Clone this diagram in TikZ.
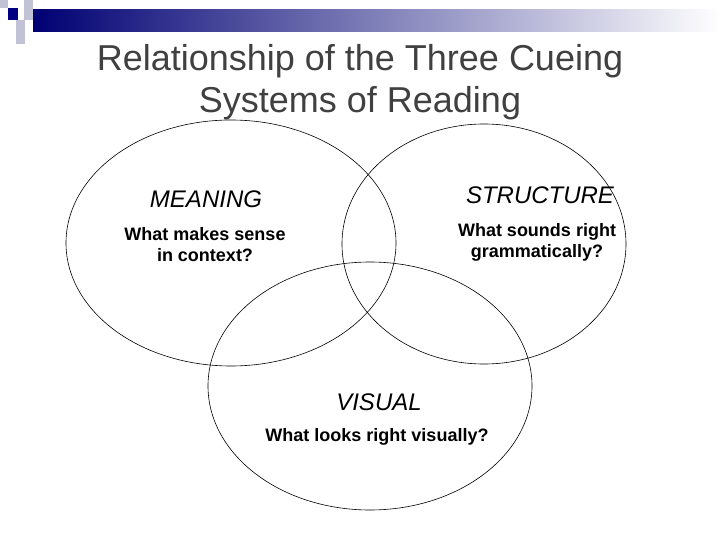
\documentclass[tikz,border=0pt]{standalone}
\usepackage{fontspec}
\setmainfont{Liberation Sans}
\begin{document}
\begin{tikzpicture}[x=1pt,y=-1pt,
  circ/.style={draw=black,line width=0.6pt},
  head/.style={font=\fontsize{24}{26}\selectfont\itshape},
  sub/.style={font=\fontsize{18}{21}\selectfont\bfseries,align=center},
  sq/.style={fill=blue!20!gray!40}]
\useasboundingbox (0,0) rectangle (720,540);
\shade[left color=blue!45!black, right color=white] (33,10) rectangle (720,32);
\fill[sq] (0,0) rectangle (8,8);
\fill[sq] (24,0) rectangle (33,10);
\fill[sq] (24,10) rectangle (33,20);
\fill[sq] (16,20) rectangle (25,32);
\fill[sq] (16,32) rectangle (25,44);
\fill[blue!50!black] (8,8) rectangle (18,20);
\node[font=\fontsize{36}{42}\selectfont,align=center,text=black!75] (title) at (360,82) {Relationship of the Three Cueing\\Systems of Reading};
\draw[circ] (231,243) ellipse[x radius=165,y radius=123];
\draw[circ] (484,244) ellipse[x radius=142,y radius=120];
\draw[circ] (370,386) ellipse[x radius=162,y radius=124];
\node[head] (m) at (206,199) {MEANING};
\node[sub] (ms) at (205,245) {What makes sense\\in context?};
\node[head] (s) at (540,195) {STRUCTURE};
\node[sub] (ss) at (537,242) {What sounds right\\grammatically?};
\node[head] (v) at (379,402) {VISUAL};
\node[sub] (vs) at (377,437) {What looks right visually?};
\end{tikzpicture}
\end{document}
